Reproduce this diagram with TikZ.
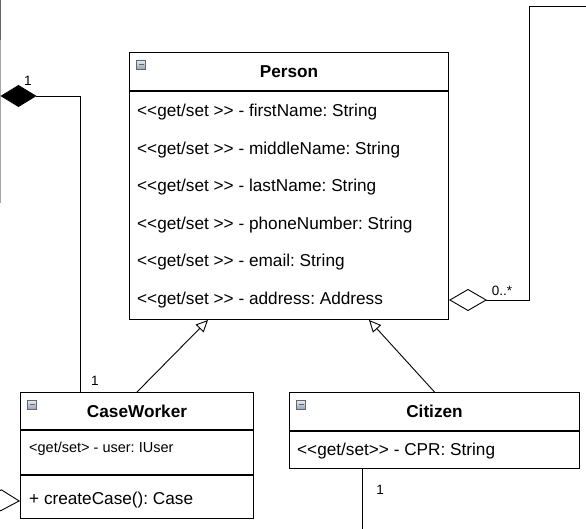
\documentclass[tikz,border=0pt]{standalone}
\usepackage{fontspec}
\newfontfamily\umlfont{Liberation Sans}
\usetikzlibrary{arrows.meta,positioning}
\frenchspacing
\definecolor{icontop}{RGB}{232,238,245}
\definecolor{iconbottom}{RGB}{150,165,185}
\tikzset{
    class-title/.style = {draw, fill=white, line width=1pt, rectangle, inner sep=0pt, font=\umlfont\fontsize{17.2}{20}\selectfont\bfseries},
    class-part/.style = {draw, fill=white, line width=1pt, rectangle, inner sep=0pt},
    class-icon/.style = {draw=black!60, rectangle, minimum size=9pt, inner sep=0pt, top color=icontop, bottom color=iconbottom,
        path picture={\draw[line width=1.4pt] ([xshift=2pt]path picture bounding box.west) -- ([xshift=-2pt]path picture bounding box.east);}},
    member/.style = {anchor=base west, inner sep=0pt, font=\umlfont\fontsize{17.2}{20}\selectfont},
    member-small/.style = {member, font=\umlfont\fontsize{14.5}{17}\selectfont},
    mult/.style = {inner sep=0pt, font=\umlfont\fontsize{13.5}{15}\selectfont},
    generalization/.style = {-{Triangle[open, fill=white, length=12pt, width=11pt]}, line width=0.9pt},
    composition/.style = {-{Diamond[length=36pt, width=22pt]}, line width=0.9pt},
    aggregation/.style = {-{Diamond[open, fill=white, length=38pt, width=22pt]}, line width=0.9pt},
    association/.style = {line width=0.9pt},
}

\begin{document}
\begin{tikzpicture}[x=1pt, y=-1pt]
\useasboundingbox (0,0) rectangle (586,529);
\clip (0,0) rectangle (586,529);

% edge of a class cut off on the left
\draw[black!35, line width=1.2pt] (0.5,0) -- (0.5,203);
\draw[black!60, line width=1.2pt] (0.5,0) -- (0.5,40);

% Person
\node[class-title, minimum width=319pt, minimum height=38pt, anchor=north west] (person) at (129,52) {Person};
\node[class-part, minimum width=319pt, minimum height=228pt, anchor=north] (person-fields) at (person.south) {};
\node[class-icon] (person-icon) at ([xshift=12pt, yshift=-12.5pt]person.north west) {};
\foreach \field [count=\i] in {firstName: String, middleName: String, lastName: String, phoneNumber: String, email: String, address: Address}
    \node[member] (person-field-\i) at (137,{79.5+37.5*\i}) {<<get/set >> - \field};

% CaseWorker
\node[class-title, minimum width=233pt, minimum height=37pt, anchor=north west] (caseworker) at (20,392) {CaseWorker};
\node[class-part, minimum width=233pt, minimum height=44pt, anchor=north] (caseworker-fields) at (caseworker.south) {};
\node[class-part, minimum width=233pt, minimum height=43pt, anchor=north] (caseworker-methods) at (caseworker-fields.south) {};
\node[class-icon] (caseworker-icon) at ([xshift=12pt, yshift=-12.5pt]caseworker.north west) {};
\node[member-small] (caseworker-field-1) at (29,452) {<get/set> - user: IUser};
\node[member] (caseworker-method-1) at (29,504) {+ createCase(): Case};

% Citizen
\node[class-title, minimum width=290pt, minimum height=38pt, anchor=north west] (citizen) at (289,392) {Citizen};
\node[class-part, minimum width=290pt, minimum height=37pt, anchor=north] (citizen-fields) at (citizen.south) {};
\node[class-icon] (citizen-icon) at ([xshift=12pt, yshift=-12.5pt]citizen.north west) {};
\node[member] (citizen-field-1) at (297,455) {<<get/set>> - CPR: String};

% inheritance
\draw[generalization] ([xshift=117pt]caseworker.north west) -- ([xshift=79pt]person-fields.south west);
\draw[generalization] (citizen.north) -- ([xshift=240pt]person-fields.south west);

% associations to classes outside the view
\coordinate (left-class) at (0.5,96);
\coordinate (right-class) at (600,6);
\coordinate (far-left-class) at (-60,498);
\coordinate (lower-class) at (362,540);
\draw[composition] ([xshift=60pt]caseworker.north west) |- (left-class);
\draw[aggregation] (right-class) -| ([xshift=80pt, yshift=20pt]person-fields.south east) -- ([yshift=20pt]person-fields.south east);
\draw[aggregation] (far-left-class) -- ([yshift=18pt]caseworker-methods.south west);
\draw[association] ([xshift=73pt]citizen-fields.south west) -- (lower-class);

% multiplicities
\node[mult] (left-mult) at (28,80.5) {1};
\node[mult] (caseworker-mult) at (95,381) {1};
\node[mult] (person-mult) at (502,290.5) {0..*};
\node[mult] (citizen-mult) at (380,490) {1};
\end{tikzpicture}
\end{document}
